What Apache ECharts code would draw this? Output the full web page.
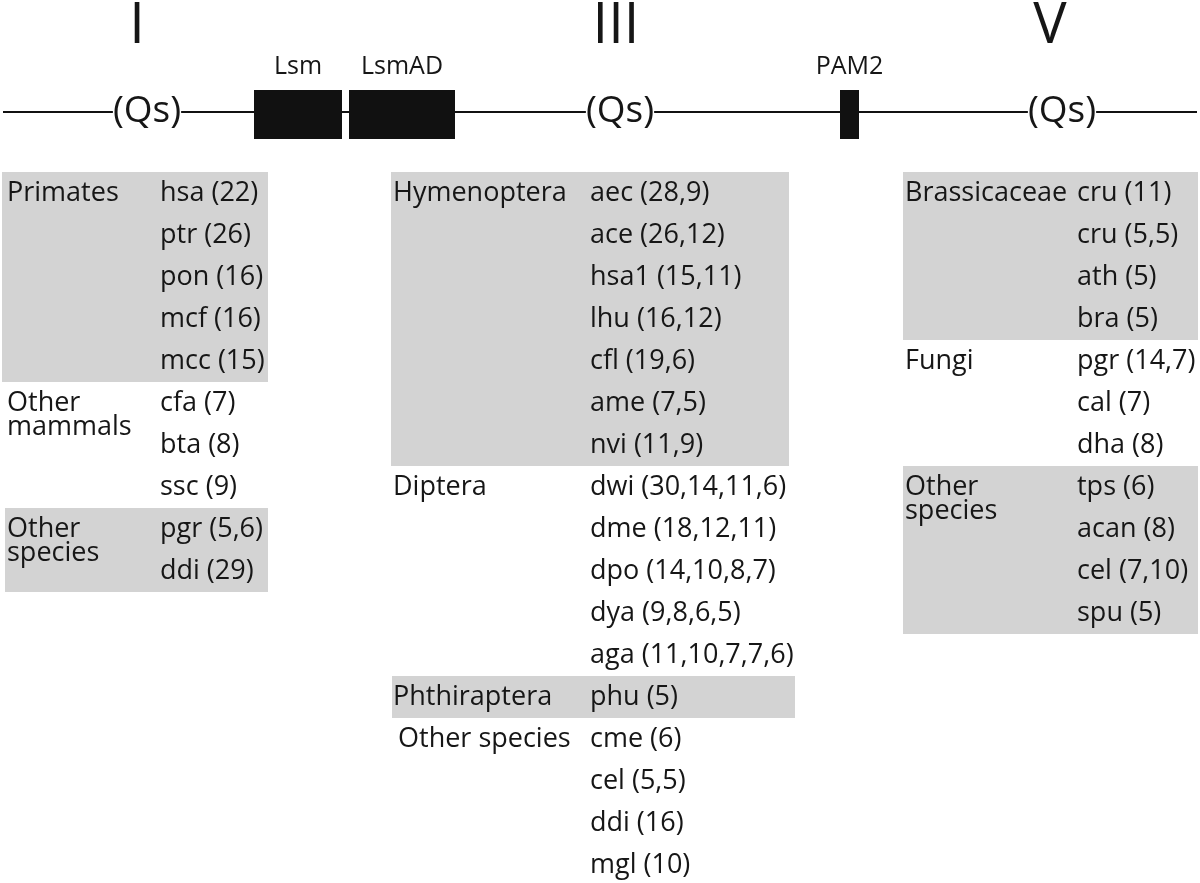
<!DOCTYPE html>
<html>
<head>
<meta charset="utf-8">
<script src="https://cdn.jsdelivr.net/npm/echarts@6/dist/echarts.min.js"></script>
<style>
html,body{margin:0;padding:0;background:#fff;}
#chart{width:1200px;height:883px;}
</style>
</head>
<body>
<div id="chart"></div>
<script>
// ---------------- DATA ----------------
const numerals = ['I', 'III', 'V'];
const qsLabel = '(Qs)';
const domainNames = ['Lsm', 'LsmAD', 'PAM2'];
const domainStart = [254, 349, 840];
const domainEnd = [342, 455, 859];

const col1Groups = ['Primates', 'Other\nmammals', 'Other\nspecies'];
const col1Shaded = [true, false, true];
const col1Species = [['hsa', 'ptr', 'pon', 'mcf', 'mcc'], ['cfa', 'bta', 'ssc'], ['pgr', 'ddi']];
const col1Counts = [[[22], [26], [16], [16], [15]], [[7], [8], [9]], [[5, 6], [29]]];

const col2Groups = ['Hymenoptera', 'Diptera', 'Phthiraptera', 'Other species'];
const col2Shaded = [true, false, true, false];
const col2Species = [
  ['aec', 'ace', 'hsa1', 'lhu', 'cfl', 'ame', 'nvi'],
  ['dwi', 'dme', 'dpo', 'dya', 'aga'],
  ['phu'],
  ['cme', 'cel', 'ddi', 'mgl']
];
const col2Counts = [
  [[28, 9], [26, 12], [15, 11], [16, 12], [19, 6], [7, 5], [11, 9]],
  [[30, 14, 11, 6], [18, 12, 11], [14, 10, 8, 7], [9, 8, 6, 5], [11, 10, 7, 7, 6]],
  [[5]],
  [[6], [5, 5], [16], [10]]
];

const col3Groups = ['Brassicaceae', 'Fungi', 'Other\nspecies'];
const col3Shaded = [true, false, true];
const col3Species = [['cru', 'cru', 'ath', 'bra'], ['pgr', 'cal', 'dha'], ['tps', 'acan', 'cel', 'spu']];
const col3Counts = [[[11], [5, 5], [5], [5]], [[14, 7], [7], [8]], [[6], [8], [7, 10], [5]]];

// ---------------- LAYOUT (positions / styles) ----------------
const W = 1200, H = 883;
const FONT = '"Open Sans", "Noto Sans", sans-serif';
const TEXT_COLOR = '#161616';
const SHADE = '#d3d3d3';
const LINE_Y = 112, LINE_X0 = 3, LINE_X1 = 1197;
const DOM_TOP = 90, DOM_BOTTOM = 139, DOM_LABEL_Y = 67;
const NUMERAL_X = [137, 616, 1050], NUMERAL_Y = 27;
const QS_X = [147, 620, 1062], QS_Y = 111;
const ROW0 = 193, ROW_H = 42, LINE_GAP = 24;
const BODY_SIZE = 27, DOM_SIZE = 25, QS_SIZE = 37, NUM_SIZE = 56;

const columns = [
  { groups: col1Groups, shaded: col1Shaded, species: col1Species, counts: col1Counts,
    labelX: [7, 7, 7], speciesX: 160, boxX0: [2, 2, 5], boxX1: [268, 268, 268] },
  { groups: col2Groups, shaded: col2Shaded, species: col2Species, counts: col2Counts,
    labelX: [393, 393, 393, 398], speciesX: 590, boxX0: [391, 391, 392, 392], boxX1: [789, 789, 795, 795] },
  { groups: col3Groups, shaded: col3Shaded, species: col3Species, counts: col3Counts,
    labelX: [905, 905, 905], speciesX: 1077, boxX0: [903, 903, 903], boxX1: [1198, 1198, 1198] }
];

// build drawing items
const rects = [];
const texts = [];

// header
rects.push({ x0: LINE_X0, y0: LINE_Y - 1, x1: LINE_X1, y1: LINE_Y + 1, fill: '#111' });
domainNames.forEach((n, i) => {
  rects.push({ x0: domainStart[i], y0: DOM_TOP, x1: domainEnd[i], y1: DOM_BOTTOM, fill: '#111' });
  texts.push({ x: (domainStart[i] + domainEnd[i]) / 2, y: DOM_LABEL_Y, text: n, size: DOM_SIZE, align: 'center' });
});
numerals.forEach((n, i) => {
  texts.push({ x: NUMERAL_X[i], y: NUMERAL_Y, text: n, size: NUM_SIZE, align: 'center' });
  texts.push({ x: QS_X[i], y: QS_Y, text: qsLabel, size: QS_SIZE, align: 'center', bg: '#fff' });
});

// columns
const shadeRects = [];
columns.forEach(col => {
  let row = 0;
  col.groups.forEach((g, gi) => {
    const n = col.species[gi].length;
    if (col.shaded[gi]) {
      shadeRects.push({ x0: col.boxX0[gi], y0: ROW0 + row * ROW_H - 21, x1: col.boxX1[gi],
        y1: ROW0 + (row + n) * ROW_H - 21, fill: SHADE });
    }
    g.split('\n').forEach((line, li) => {
      texts.push({ x: col.labelX[gi], y: ROW0 + row * ROW_H + li * LINE_GAP, text: line, size: BODY_SIZE, align: 'left' });
    });
    col.species[gi].forEach((s, si) => {
      texts.push({ x: col.speciesX, y: ROW0 + (row + si) * ROW_H,
        text: s + ' (' + col.counts[gi][si].join(',') + ')', size: BODY_SIZE, align: 'left' });
    });
    row += n;
  });
});
const allRects = shadeRects.concat(rects);

const chart = echarts.init(document.getElementById('chart'), null, { renderer: 'canvas' });
chart.setOption({
  backgroundColor: '#fff',
  animation: false,
  grid: { left: 0, right: 0, top: 0, bottom: 0 },
  xAxis: { type: 'value', min: 0, max: W, show: false },
  yAxis: { type: 'value', min: 0, max: H, inverse: true, show: false },
  series: [
    {
      type: 'custom', clip: false, silent: true,
      data: allRects.map(r => [r.x0, r.y0, r.x1, r.y1]),
      renderItem: (params, api) => {
        const r = allRects[params.dataIndex];
        const p0 = api.coord([api.value(0), api.value(1)]);
        const p1 = api.coord([api.value(2), api.value(3)]);
        return { type: 'rect', shape: { x: p0[0], y: p0[1], width: p1[0] - p0[0], height: p1[1] - p0[1] },
          style: { fill: r.fill } };
      }
    },
    {
      type: 'custom', clip: false, silent: true,
      data: texts.map(t => [t.x, t.y]),
      renderItem: (params, api) => {
        const t = texts[params.dataIndex];
        const p = api.coord([api.value(0), api.value(1)]);
        const style = { text: t.text, fill: TEXT_COLOR, fontSize: t.size, fontFamily: FONT,
          align: t.align, verticalAlign: 'middle' };
        if (t.bg) { style.backgroundColor = t.bg; style.padding = [0, 0]; }
        return { type: 'text', x: p[0], y: p[1], style: style };
      }
    }
  ]
});
</script>
</body>
</html>
